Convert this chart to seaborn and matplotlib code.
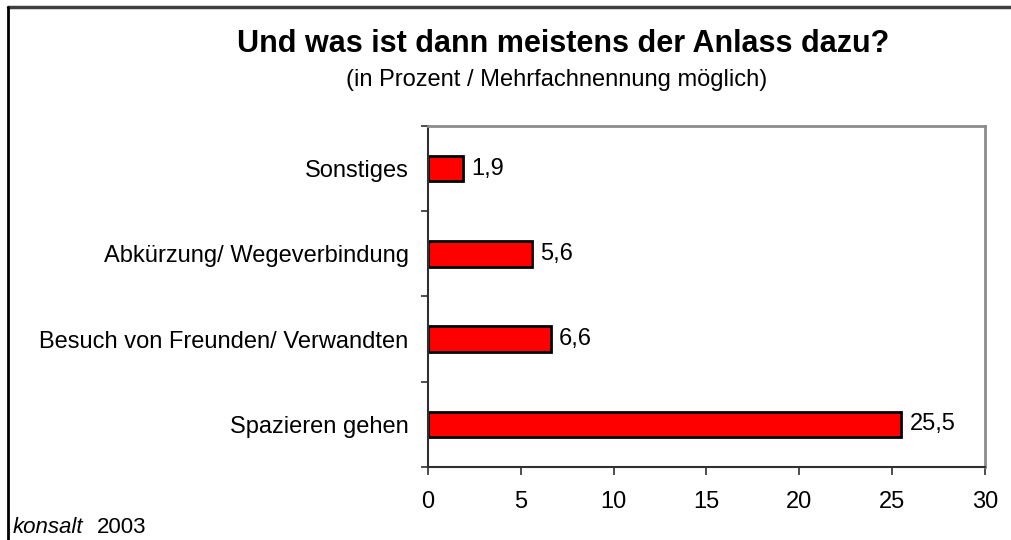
import matplotlib
matplotlib.use('Agg')
import matplotlib.pyplot as plt
import seaborn as sns
import pandas as pd
from matplotlib.lines import Line2D
from matplotlib.ticker import FixedLocator

# Data
categories = ['Sonstiges', 'Abkürzung/ Wegeverbindung',
              'Besuch von Freunden/ Verwandten', 'Spazieren gehen']
values = [1.9, 5.6, 6.6, 25.5]
x_ticks = [0, 5, 10, 15, 20, 25, 30]

df = pd.DataFrame({'Anlass': categories, 'Prozent': values})

sns.set_style('white')
plt.rcParams['font.family'] = ['Liberation Sans', 'DejaVu Sans']
plt.rcParams['text.color'] = 'black'
plt.rcParams['xtick.color'] = 'black'
plt.rcParams['ytick.color'] = 'black'
plt.rcParams['axes.labelcolor'] = 'black'

fig = plt.figure(figsize=(10.11, 5.4), dpi=100)
ax = fig.add_axes([0.4233, 0.1352, 0.5510, 0.6315])

sns.barplot(data=df, x='Prozent', y='Anlass', order=categories, orient='h',
            color='#ff0000', edgecolor='black', linewidth=2, width=0.3,
            saturation=1, ax=ax)

labels = [f"{v:.1f}".replace('.', ',') for v in values]
ax.bar_label(ax.containers[0], labels=labels, padding=6, fontsize=17)

ax.set_xlim(0, 30)
ax.set_ylim(3.5, -0.5)
ax.set_xticks(x_ticks)
ax.set_xlabel('')
ax.set_ylabel('')
ax.tick_params(axis='x', labelsize=17, length=6, width=1.2, color='#303030',
               direction='out', pad=11, bottom=True)
ax.tick_params(axis='y', which='major', labelsize=17, length=0, pad=14)
ax.yaxis.set_minor_locator(FixedLocator([-0.5, 0.5, 1.5, 2.5, 3.5]))
ax.tick_params(axis='y', which='minor', length=5, width=1.2, color='#303030',
               direction='out', left=True)

for side in ['left', 'bottom']:
    ax.spines[side].set_color('#303030')
    ax.spines[side].set_linewidth(1.5)
for side in ['top', 'right']:
    ax.spines[side].set_color('#8c8c8c')
    ax.spines[side].set_linewidth(2)

fig.text(0.557, 0.918, 'Und was ist dann meistens der Anlass dazu?',
         ha='center', va='center', fontsize=22, fontweight='bold')
fig.text(0.551, 0.852, '(in Prozent / Mehrfachnennung möglich)',
         ha='center', va='center', fontsize=17)

fig.text(13 / 1011, 1 - 533 / 540, 'konsalt', fontsize=16, style='italic',
         ha='left', va='baseline')
fig.text(97 / 1011, 1 - 533 / 540, '2003', fontsize=16,
         ha='left', va='baseline')

# outer frame (top and left edges only)
fig.add_artist(Line2D([8 / 1011, 1.0], [1 - 7 / 540, 1 - 7 / 540],
                      transform=fig.transFigure, color='#404040', linewidth=2.5))
fig.add_artist(Line2D([8 / 1011, 8 / 1011], [0.0, 1 - 7 / 540],
                      transform=fig.transFigure, color='black', linewidth=2))

fig.savefig('out.png', dpi=100)
